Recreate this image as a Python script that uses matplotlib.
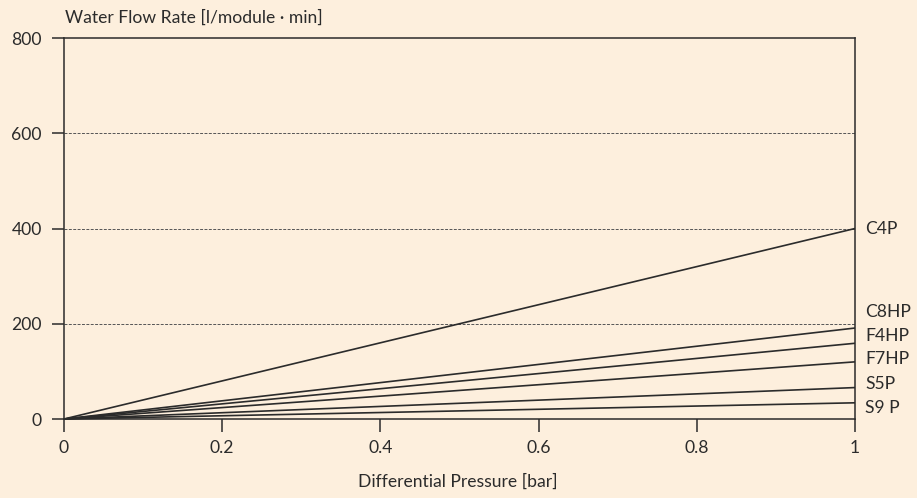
import numpy as np
import matplotlib.pyplot as plt

# flow rate at 1 bar for each module type (l/module min)
modules = ['C4P', 'C8HP', 'F4HP', 'F7HP', 'S5P', 'S9 P']
flow_at_1bar = [400, 191, 159, 120, 66, 34]
label_y = [400, 225, 175, 125, 73, 23]

pressure = [0, 1]
xticks = [0, 0.2, 0.4, 0.6, 0.8, 1]
yticks = [0, 200, 400, 600, 800]

bg = '#fdefdd'
ink = '#2b2b2b'

plt.rcParams['font.family'] = ['Lato', 'DejaVu Sans']
fs = 12.6

fig = plt.figure(figsize=(9.17, 4.98), dpi=100, facecolor=bg)
ax = fig.add_axes([64 / 917, 1 - 419 / 498, (855 - 64) / 917, (419 - 38) / 498])
ax.set_facecolor(bg)

for name, q, ly in zip(modules, flow_at_1bar, label_y):
    ax.plot(pressure, [0, q], color=ink, lw=1.2, solid_capstyle='butt', clip_on=False)
    ax.text(1.013, ly, name, ha='left', va='center', color=ink, fontsize=fs)

for g in [200, 400, 600]:
    ax.axhline(g, color='#555555', lw=0.7, ls=(0, (3, 1.5)), zorder=0)

ax.set_xlim(0, 1)
ax.set_ylim(0, 800)
ax.set_xticks(xticks)
ax.set_xticklabels(['0', '0.2', '0.4', '0.6', '0.8', '1'])
ax.set_yticks(yticks)
ax.tick_params(axis='both', direction='out', length=9, width=1.1, color=ink,
               labelcolor=ink, labelsize=fs)
ax.tick_params(axis='x', pad=6)
ax.tick_params(axis='y', pad=7)
for s in ax.spines.values():
    s.set_color(ink)
    s.set_linewidth(1.1)

fig.text(65 / 917, 1 - 18 / 498, 'Water Flow Rate [l/module · min]', ha='left', va='center',
         color=ink, fontsize=fs)
fig.text(458 / 917, 1 - 482 / 498, 'Differential Pressure [bar]', ha='center', va='center',
         color=ink, fontsize=fs)

fig.savefig('out.png', dpi=100, facecolor=bg)
